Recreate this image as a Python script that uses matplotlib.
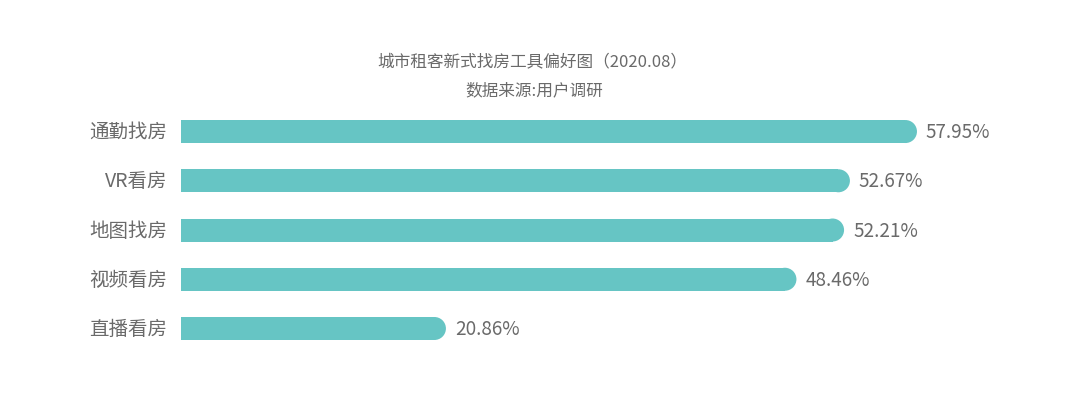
import matplotlib
matplotlib.use("Agg")
import matplotlib.pyplot as plt
from matplotlib.patches import Ellipse

# data
categories = ["通勤找房", "VR看房", "地图找房", "视频看房", "直播看房"]
shares = [57.95, 52.67, 52.21, 48.46, 20.86]
value_labels = ["57.95%", "52.67%", "52.21%", "48.46%", "20.86%"]

title = "城市租客新式找房工具偏好图（2020.08）"
subtitle = "数据来源:用户调研"

BAR_COLOR = "#66c5c4"
TEXT_COLOR = "#6a6a6a"

plt.rcParams["font.family"] = ["Noto Sans CJK SC", "DejaVu Sans"]

fig = plt.figure(figsize=(10.8, 4.1), dpi=100)
ax = fig.add_axes([181 / 1080, 0.1363, 889 / 1080, 0.6005])

px_per_unit = 889 / 70          # horizontal pixels per percent
bar_px = 23                      # bar thickness in pixels
radius = (bar_px / 2) / px_per_unit
bar_h = bar_px / 49.25

ypos = list(range(len(categories)))
# square part of each bar, then a half-round end on the right
ax.barh(ypos, [v - radius for v in shares], height=bar_h, color=BAR_COLOR, linewidth=0)
for y, v in zip(ypos, shares):
    ax.add_patch(Ellipse((v - radius, y), 2 * radius, bar_h,
                         facecolor=BAR_COLOR, edgecolor="none", zorder=3))

for y, v, lab in zip(ypos, shares, value_labels):
    ax.text(v + 9 / px_per_unit, y, lab, va="center", ha="left",
            fontsize=13.6, color=TEXT_COLOR, fontweight="light")

for y, cat in zip(ypos, categories):
    ax.text(-14 / px_per_unit, y, cat, va="center", ha="right",
            fontsize=14, color=TEXT_COLOR, fontweight="light")

ax.set_xlim(0, 70)
ax.set_ylim(4.5, -0.5)
ax.axis("off")

fig.text(532 / 1080, 1 - 62 / 410, title, ha="center", va="center",
         fontsize=12, color=TEXT_COLOR, fontweight="light")
fig.text(534 / 1080, 1 - 91 / 410, subtitle, ha="center", va="center",
         fontsize=12, color=TEXT_COLOR, fontweight="light")

fig.savefig("out.png", dpi=100, facecolor="white")
